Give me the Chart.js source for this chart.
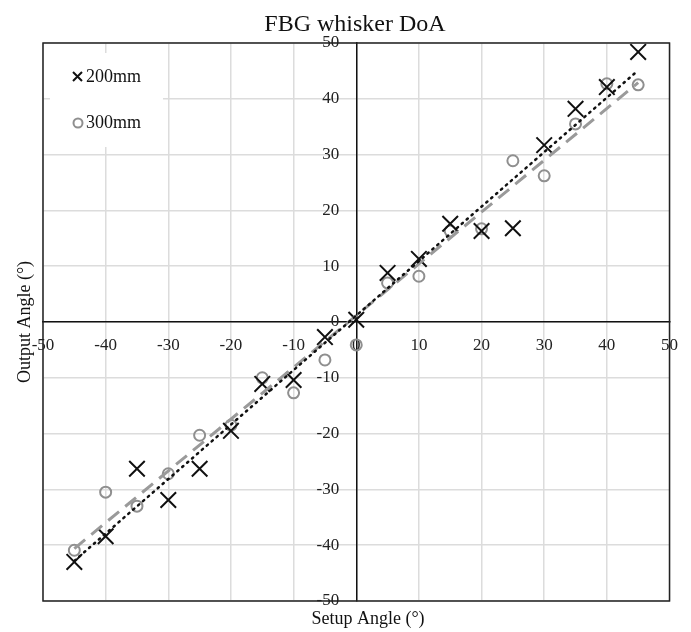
<!DOCTYPE html>
<html>
<head>
<meta charset="utf-8">
<title>FBG whisker DoA</title>
<script src="https://cdn.jsdelivr.net/npm/chart.js@4.4.1/dist/chart.umd.min.js"></script>
<style>
  html, body { margin: 0; padding: 0; background: #fff; }
  #wrap { width: 691px; height: 632px; position: relative; }
</style>
</head>
<body>
<div id="wrap"><canvas id="chart"></canvas></div>
<script>
// ── Data ───────────────────────────────────────────────────────────
const setupAngles = [-45, -40, -35, -30, -25, -20, -15, -10, -5, 0, 5, 10, 15, 20, 25, 30, 35, 40, 45];
const output200 = [-43.0, -38.4, -26.3, -31.9, -26.3, -19.5, -11.1, -10.4, -2.7, 0.4,
  8.8, 11.3, 17.6, 16.3, 16.8, 31.7, 38.2, 42.1, 48.4];
const output300 = [-40.9, -30.5, -33.0, -27.2, -20.3, -18.5, -10.0, -12.7, -6.8, -4.1,
  7.0, 8.2, 16.3, 16.7, 28.9, 26.2, 35.5, 42.7, 42.5];

// trendline end points
const trendX = [-45, 45];
const trend200 = [-42.8, 45.1];
const trend300 = [-40.6, 42.9];

const tickValues = [-50, -40, -30, -20, -10, 0, 10, 20, 30, 40, 50];

const SERIF = '"Liberation Serif", "Times New Roman", serif';
const GREY = '#8f8f8f';

function toPoints(xs, ys) {
  return xs.map(function (x, i) { return { x: x, y: ys[i] }; });
}

// ── Decorations: title, axis titles, y labels, legend, frame ───────
const decorations = {
  id: 'decorations',
  beforeDatasetsDraw: function (chart) {
    const ctx = chart.ctx;
    // legend background covers the grid
    ctx.save();
    ctx.fillStyle = '#fff';
    ctx.fillRect(50, 53, 113, 94);
    ctx.restore();
  },
  afterDraw: function (chart) {
    const ctx = chart.ctx;
    const a = chart.chartArea;
    const xs = chart.scales.x;
    const ys = chart.scales.y;
    ctx.save();

    // frame
    ctx.strokeStyle = '#222';
    ctx.lineWidth = 1.5;
    ctx.strokeRect(a.left, a.top, a.right - a.left, a.bottom - a.top);

    // y tick labels, left of the vertical axis at x = 0
    ctx.fillStyle = '#222';
    ctx.font = '17px ' + SERIF;
    ctx.textAlign = 'right';
    ctx.textBaseline = 'middle';
    const yAxisX = xs.getPixelForValue(0);
    tickValues.forEach(function (v) {
      ctx.fillText(String(v), yAxisX - 17, ys.getPixelForValue(v));
    });

    // title
    ctx.fillStyle = '#111';
    ctx.textAlign = 'center';
    ctx.font = '24px ' + SERIF;
    ctx.fillText('FBG whisker DoA', 355, 25);

    // axis titles
    ctx.font = '18px ' + SERIF;
    ctx.fillText('Setup Angle (°)', 368, 619);
    ctx.save();
    ctx.translate(25, 322);
    ctx.rotate(-Math.PI / 2);
    ctx.fillText('Output Angle (°)', 0, 0);
    ctx.restore();

    // legend
    ctx.strokeStyle = '#111';
    ctx.lineWidth = 2;
    ctx.beginPath();
    ctx.moveTo(73, 72); ctx.lineTo(82, 81);
    ctx.moveTo(82, 72); ctx.lineTo(73, 81);
    ctx.stroke();
    ctx.strokeStyle = GREY;
    ctx.beginPath();
    ctx.arc(78, 123, 4.5, 0, Math.PI * 2);
    ctx.stroke();
    ctx.fillStyle = '#111';
    ctx.textAlign = 'left';
    ctx.fillText('200mm', 86, 77);
    ctx.fillText('300mm', 86, 123);

    ctx.restore();
  }
};

// ── Chart ──────────────────────────────────────────────────────────
new Chart(document.getElementById('chart'), {
  type: 'scatter',
  data: {
    datasets: [
      {
        label: '200mm fit',
        type: 'line',
        data: toPoints(trendX, trend200),
        borderColor: '#111',
        borderWidth: 2.5,
        borderDash: [1.5, 5],
        borderCapStyle: 'round',
        pointRadius: 0,
        fill: false,
        order: 0,
      },
      {
        label: '300mm fit',
        type: 'line',
        data: toPoints(trendX, trend300),
        borderColor: '#9a9a9a',
        borderWidth: 3,
        borderDash: [14, 8],
        pointRadius: 0,
        fill: false,
        order: 1,
      },
      {
        label: '200mm',
        data: toPoints(setupAngles, output200),
        pointStyle: 'crossRot',
        pointRadius: 11,
        pointBorderWidth: 2,
        borderColor: '#111',
        backgroundColor: '#111',
        order: 2,
      },
      {
        label: '300mm',
        data: toPoints(setupAngles, output300),
        pointStyle: 'circle',
        pointRadius: 5.5,
        pointBorderWidth: 2,
        borderColor: GREY,
        backgroundColor: 'rgba(0,0,0,0)',
        order: 3,
      },
    ],
  },
  options: {
    responsive: true,
    maintainAspectRatio: false,
    animation: false,
    layout: { padding: { left: 43, right: 21, top: 43, bottom: 31 } },
    plugins: {
      legend: { display: false },
      title: { display: false },
      tooltip: { enabled: false },
    },
    scales: {
      x: {
        type: 'linear',
        position: { y: 0 },
        min: -50,
        max: 50,
        afterBuildTicks: function (scale) {
          scale.ticks = tickValues.map(function (v) { return { value: v }; });
        },
        grid: { color: '#dcdcdc', lineWidth: 1.5, drawTicks: false },
        border: { display: true, color: '#111', width: 1.5 },
        ticks: {
          color: '#222',
          padding: 13,
          font: { family: SERIF, size: 17 },
          maxRotation: 0,
          autoSkip: false,
        },
      },
      y: {
        type: 'linear',
        position: { x: 0 },
        min: -50,
        max: 50,
        afterBuildTicks: function (scale) {
          scale.ticks = tickValues.map(function (v) { return { value: v }; });
        },
        grid: { color: '#dcdcdc', lineWidth: 1.5, drawTicks: false },
        border: { display: true, color: '#111', width: 1.5 },
        ticks: {
          display: false,
          padding: 17,
          font: { family: SERIF, size: 17 },
          autoSkip: false,
        },
      },
    },
  },
  plugins: [decorations],
});
</script>
</body>
</html>
